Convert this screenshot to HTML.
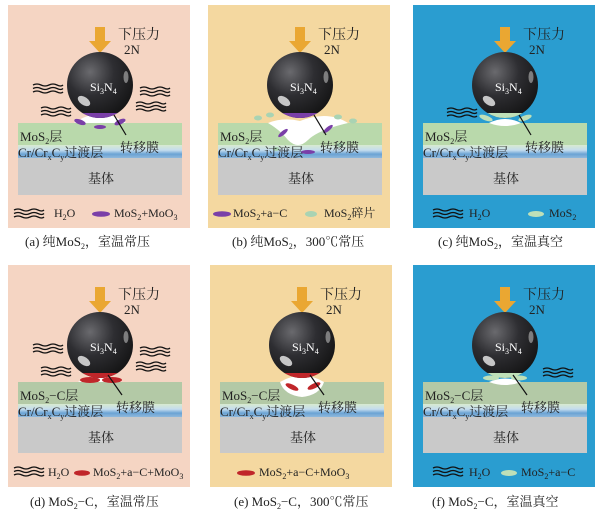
<!DOCTYPE html>
<html><head><meta charset="utf-8"><style>
html,body{margin:0;padding:0;background:#fff;}
svg{display:block;}
text{font-family:"Liberation Serif","Noto Serif CJK SC",serif;fill:#222;}
</style></head><body>
<svg width="601" height="511" viewBox="0 0 601 511" xmlns="http://www.w3.org/2000/svg">
<defs>
<radialGradient id="ball" cx="0.35" cy="0.3" r="0.8">
<stop offset="0" stop-color="#6a6a6e"/><stop offset="0.45" stop-color="#2e2e32"/><stop offset="1" stop-color="#111"/>
</radialGradient>
<linearGradient id="trans" x1="0" y1="0" x2="0" y2="1">
<stop offset="0" stop-color="#d8ead0"/><stop offset="0.4" stop-color="#c4dcee"/><stop offset="0.7" stop-color="#6aa3d4"/><stop offset="1" stop-color="#8fb8dc"/>
</linearGradient>
<g id="w" fill="none" stroke="#111" stroke-width="1.3">
<path d="M0,0 q4,-2 8,0 t8,0 t8,0 t6,0"/>
<path d="M0,3.5 q4,-2 8,0 t8,0 t8,0 t6,0"/>
<path d="M0,7 q4,-2 8,0 t8,0 t8,0 t6,0"/>
</g>
<g id="arrow" fill="#eaa732"><rect x="87" y="22" width="10" height="15"/><polygon points="81,36 103,36 92,48"/></g>
<g id="ballg"><circle cx="92" cy="80" r="33" fill="url(#ball)"/>
<ellipse cx="76" cy="96" rx="7" ry="4" fill="#eee" opacity="0.8" transform="rotate(35 76 96)"/>
<ellipse cx="118" cy="72" rx="2.5" ry="6" fill="#bbb" opacity="0.6"/></g>
</defs>

<!-- Panel a -->
<g transform="translate(8,5)">
<rect width="182" height="223" fill="#f5d5c3"/>
<rect x="10" y="118" width="164" height="22" fill="#b9d9ab"/>
<rect x="10" y="140" width="164" height="13" fill="url(#trans)"/>
<rect x="10" y="153" width="164" height="37" fill="#c9c9c9"/>
<use href="#arrow"/>
<text x="110" y="34" font-size="14">下压力</text><text x="116" y="49" font-size="13">2N</text>
<path d="M66,118 Q92,100 118,118 Z" fill="#fff"/>
<use href="#ballg"/>
<text x="82" y="86" font-size="12" fill="#fff" style="fill:#fff">Si<tspan font-size="8" dy="3">3</tspan><tspan dy="-3">N</tspan><tspan font-size="8" dy="3">4</tspan></text>
<path d="M74.5,108 A33,33 0 0 0 109.5,108 Z" fill="#7a3fa8"/>
<ellipse cx="72" cy="117" rx="6" ry="2.5" fill="#7a3fa8" transform="rotate(20 72 117)"/>
<ellipse cx="92" cy="122" rx="6" ry="2" fill="#7a3fa8"/>
<ellipse cx="112" cy="117" rx="6" ry="2.5" fill="#7a3fa8" transform="rotate(-25 112 117)"/>
<use href="#w" x="25" y="80"/><use href="#w" x="132" y="83"/><use href="#w" x="33" y="103"/><use href="#w" x="128" y="98"/>
<line x1="106" y1="110" x2="118" y2="130" stroke="#111" stroke-width="1.2"/>
<text x="12" y="136" font-size="13">MoS<tspan font-size="8" dy="3">2</tspan><tspan dy="-3">层</tspan></text>
<text x="112" y="147" font-size="13">转移膜</text>
<text x="10" y="152" font-size="13">Cr/Cr<tspan font-size="8" dy="3">x</tspan><tspan dy="-3">C</tspan><tspan font-size="8" dy="3">y</tspan><tspan dy="-3">过渡层</tspan></text>
<text x="80" y="178" font-size="13">基体</text>
<use href="#w" x="6" y="205"/><text x="46" y="212" font-size="12">H<tspan font-size="8" dy="3">2</tspan><tspan dy="-3">O</tspan></text>
<ellipse cx="93" cy="209" rx="9" ry="2.8" fill="#7a3fa8"/><text x="106" y="212" font-size="12">MoS<tspan font-size="8" dy="3">2</tspan><tspan dy="-3">+MoO</tspan><tspan font-size="8" dy="3">3</tspan></text>
</g>
<text x="25" y="246" font-size="13">(a) 纯MoS<tspan font-size="8" dy="3">2</tspan><tspan dy="-3">，室温常压</tspan></text>

<!-- Panel b -->
<g transform="translate(208,5)">
<rect width="182" height="223" fill="#f4d8a0"/>
<rect x="10" y="118" width="164" height="22" fill="#b9d9ab"/>
<rect x="10" y="140" width="164" height="13" fill="url(#trans)"/>
<rect x="10" y="153" width="164" height="37" fill="#c9c9c9"/>
<use href="#arrow"/>
<text x="110" y="34" font-size="14">下压力</text><text x="116" y="49" font-size="13">2N</text>
<path d="M60,118 Q75,112 92,116 Q120,105 140,118 Q110,125 100,135 Q90,145 80,135 Q72,125 60,118 Z" fill="#fff"/>
<use href="#ballg"/>
<text x="82" y="86" font-size="12" style="fill:#fff">Si<tspan font-size="8" dy="3">3</tspan><tspan dy="-3">N</tspan><tspan font-size="8" dy="3">4</tspan></text>
<path d="M74.5,108 A33,33 0 0 0 109.5,108 Z" fill="#7a3fa8"/>
<ellipse cx="75" cy="128" rx="6" ry="2" fill="#7a3fa8" transform="rotate(-40 75 128)"/>
<ellipse cx="120" cy="124" rx="6" ry="2" fill="#7a3fa8" transform="rotate(-40 120 124)"/>
<ellipse cx="100" cy="147" rx="7" ry="2" fill="#7a3fa8"/>
<ellipse cx="50" cy="113" rx="4" ry="2.5" fill="#a9d3b3"/><ellipse cx="62" cy="110" rx="4" ry="2.5" fill="#a9d3b3"/>
<ellipse cx="130" cy="112" rx="4" ry="2.5" fill="#a9d3b3"/><ellipse cx="145" cy="116" rx="4" ry="2.5" fill="#a9d3b3"/>
<ellipse cx="68" cy="144" rx="3.5" ry="2" fill="#a9d3b3"/><ellipse cx="132" cy="140" rx="3.5" ry="2" fill="#a9d3b3"/>
<line x1="106" y1="110" x2="118" y2="130" stroke="#111" stroke-width="1.2"/>
<text x="12" y="136" font-size="13">MoS<tspan font-size="8" dy="3">2</tspan><tspan dy="-3">层</tspan></text>
<text x="112" y="147" font-size="13">转移膜</text>
<text x="10" y="152" font-size="13">Cr/Cr<tspan font-size="8" dy="3">x</tspan><tspan dy="-3">C</tspan><tspan font-size="8" dy="3">y</tspan><tspan dy="-3">过渡层</tspan></text>
<text x="80" y="178" font-size="13">基体</text>
<ellipse cx="14" cy="209" rx="9" ry="2.8" fill="#7a3fa8"/><text x="25" y="212" font-size="12">MoS<tspan font-size="8" dy="3">2</tspan><tspan dy="-3">+a−C</tspan></text>
<ellipse cx="103" cy="209" rx="6" ry="3" fill="#a9d3b3"/><text x="116" y="212" font-size="12">MoS<tspan font-size="8" dy="3">2</tspan><tspan dy="-3">碎片</tspan></text>
</g>
<text x="232" y="246" font-size="13">(b) 纯MoS<tspan font-size="8" dy="3">2</tspan><tspan dy="-3">，300℃常压</tspan></text>

<!-- Panel c -->
<g transform="translate(413,5)">
<rect width="182" height="223" fill="#2a9dd0"/>
<rect x="10" y="118" width="164" height="22" fill="#b9d9ab"/>
<rect x="10" y="140" width="164" height="13" fill="url(#trans)"/>
<rect x="10" y="153" width="164" height="37" fill="#c9c9c9"/>
<use href="#arrow"/>
<text x="110" y="34" font-size="14">下压力</text><text x="116" y="49" font-size="13">2N</text>
<path d="M76,118 Q92,110 108,118 Q92,124 76,118 Z" fill="#fff"/>
<use href="#ballg"/>
<text x="82" y="86" font-size="12" style="fill:#fff">Si<tspan font-size="8" dy="3">3</tspan><tspan dy="-3">N</tspan><tspan font-size="8" dy="3">4</tspan></text>
<path d="M74.5,108 A33,33 0 0 0 109.5,108 Z" fill="#bfe0b8"/>
<ellipse cx="73" cy="113" rx="7" ry="2.5" fill="#bfe0b8" transform="rotate(20 73 113)"/>
<ellipse cx="112" cy="113" rx="7" ry="2.5" fill="#bfe0b8" transform="rotate(-20 112 113)"/>
<use href="#w" x="34" y="104"/>
<line x1="106" y1="110" x2="118" y2="130" stroke="#111" stroke-width="1.2"/>
<text x="12" y="136" font-size="13">MoS<tspan font-size="8" dy="3">2</tspan><tspan dy="-3">层</tspan></text>
<text x="112" y="147" font-size="13">转移膜</text>
<text x="10" y="152" font-size="13">Cr/Cr<tspan font-size="8" dy="3">x</tspan><tspan dy="-3">C</tspan><tspan font-size="8" dy="3">y</tspan><tspan dy="-3">过渡层</tspan></text>
<text x="80" y="178" font-size="13">基体</text>
<use href="#w" x="20" y="205"/><text x="56" y="212" font-size="12">H<tspan font-size="8" dy="3">2</tspan><tspan dy="-3">O</tspan></text>
<ellipse cx="123" cy="209" rx="8" ry="3" fill="#bfe0b8"/><text x="136" y="212" font-size="12">MoS<tspan font-size="8" dy="3">2</tspan></text>
</g>
<text x="438" y="246" font-size="13">(c) 纯MoS<tspan font-size="8" dy="3">2</tspan><tspan dy="-3">，室温真空</tspan></text>

<!-- Panel d -->
<g transform="translate(8,265)">
<rect width="182" height="222" fill="#f5d5c3"/>
<rect x="10" y="117" width="164" height="22" fill="#b3c9a6"/>
<rect x="10" y="139" width="164" height="13" fill="url(#trans)"/>
<rect x="10" y="152" width="164" height="36" fill="#c9c9c9"/>
<use href="#arrow"/>
<text x="110" y="34" font-size="14">下压力</text><text x="116" y="49" font-size="13">2N</text>
<path d="M70,117 Q92,104 114,117 Z" fill="#fff"/>
<use href="#ballg"/>
<text x="82" y="86" font-size="12" style="fill:#fff">Si<tspan font-size="8" dy="3">3</tspan><tspan dy="-3">N</tspan><tspan font-size="8" dy="3">4</tspan></text>
<path d="M74.5,108 A33,33 0 0 0 109.5,108 Z" fill="#c0262a"/>
<ellipse cx="82" cy="115" rx="10" ry="3" fill="#c0262a"/><ellipse cx="104" cy="115" rx="10" ry="3" fill="#c0262a"/>
<use href="#w" x="25" y="80"/><use href="#w" x="132" y="83"/><use href="#w" x="33" y="103"/><use href="#w" x="128" y="98"/>
<line x1="100" y1="110" x2="114" y2="130" stroke="#111" stroke-width="1.2"/>
<text x="12" y="135" font-size="13">MoS<tspan font-size="8" dy="3">2</tspan><tspan dy="-3">−C层</tspan></text>
<text x="108" y="147" font-size="13">转移膜</text>
<text x="10" y="151" font-size="13">Cr/Cr<tspan font-size="8" dy="3">x</tspan><tspan dy="-3">C</tspan><tspan font-size="8" dy="3">y</tspan><tspan dy="-3">过渡层</tspan></text>
<text x="80" y="177" font-size="13">基体</text>
<use href="#w" x="6" y="203"/><text x="40" y="211" font-size="12">H<tspan font-size="8" dy="3">2</tspan><tspan dy="-3">O</tspan></text>
<ellipse cx="74" cy="208" rx="8" ry="2.8" fill="#c0262a"/><text x="85" y="211" font-size="12">MoS<tspan font-size="8" dy="3">2</tspan><tspan dy="-3">+a−C+MoO</tspan><tspan font-size="8" dy="3">3</tspan></text>
</g>
<text x="30" y="506" font-size="13">(d) MoS<tspan font-size="8" dy="3">2</tspan><tspan dy="-3">−C，室温常压</tspan></text>

<!-- Panel e -->
<g transform="translate(210,265)">
<rect width="182" height="222" fill="#f4d8a0"/>
<rect x="10" y="117" width="164" height="22" fill="#b3c9a6"/>
<rect x="10" y="139" width="164" height="13" fill="url(#trans)"/>
<rect x="10" y="152" width="164" height="36" fill="#c9c9c9"/>
<use href="#arrow"/>
<text x="110" y="34" font-size="14">下压力</text><text x="116" y="49" font-size="13">2N</text>
<path d="M70,117 Q92,104 114,117 Q110,130 92,132 Q74,130 70,117 Z" fill="#fff"/>
<use href="#ballg"/>
<text x="82" y="86" font-size="12" style="fill:#fff">Si<tspan font-size="8" dy="3">3</tspan><tspan dy="-3">N</tspan><tspan font-size="8" dy="3">4</tspan></text>
<path d="M74.5,108 A33,33 0 0 0 109.5,108 Z" fill="#c0262a"/>
<ellipse cx="82" cy="122" rx="7" ry="2.5" fill="#c0262a" transform="rotate(25 82 122)"/>
<ellipse cx="104" cy="121" rx="7" ry="2.5" fill="#c0262a" transform="rotate(-25 104 121)"/>
<line x1="100" y1="110" x2="114" y2="130" stroke="#111" stroke-width="1.2"/>
<text x="12" y="135" font-size="13">MoS<tspan font-size="8" dy="3">2</tspan><tspan dy="-3">−C层</tspan></text>
<text x="108" y="147" font-size="13">转移膜</text>
<text x="10" y="151" font-size="13">Cr/Cr<tspan font-size="8" dy="3">x</tspan><tspan dy="-3">C</tspan><tspan font-size="8" dy="3">y</tspan><tspan dy="-3">过渡层</tspan></text>
<text x="80" y="177" font-size="13">基体</text>
<ellipse cx="36" cy="208" rx="9" ry="2.8" fill="#c0262a"/><text x="49" y="211" font-size="12">MoS<tspan font-size="8" dy="3">2</tspan><tspan dy="-3">+a−C+MoO</tspan><tspan font-size="8" dy="3">3</tspan></text>
</g>
<text x="234" y="506" font-size="13">(e) MoS<tspan font-size="8" dy="3">2</tspan><tspan dy="-3">−C，300℃常压</tspan></text>

<!-- Panel f -->
<g transform="translate(413,265)">
<rect width="182" height="222" fill="#2a9dd0"/>
<rect x="10" y="117" width="164" height="22" fill="#b3c9a6"/>
<rect x="10" y="139" width="164" height="13" fill="url(#trans)"/>
<rect x="10" y="152" width="164" height="36" fill="#c9c9c9"/>
<use href="#arrow"/>
<text x="110" y="34" font-size="14">下压力</text><text x="116" y="49" font-size="13">2N</text>
<path d="M76,117 Q92,110 108,117 Q92,123 76,117 Z" fill="#fff"/>
<use href="#ballg"/>
<text x="82" y="86" font-size="12" style="fill:#fff">Si<tspan font-size="8" dy="3">3</tspan><tspan dy="-3">N</tspan><tspan font-size="8" dy="3">4</tspan></text>
<path d="M74.5,108 A33,33 0 0 0 109.5,108 Z" fill="#bfe0b8"/>
<ellipse cx="78" cy="113" rx="8" ry="2.5" fill="#bfe0b8"/><ellipse cx="106" cy="113" rx="8" ry="2.5" fill="#bfe0b8"/>
<use href="#w" x="130" y="104"/>
<line x1="100" y1="110" x2="114" y2="130" stroke="#111" stroke-width="1.2"/>
<text x="12" y="135" font-size="13">MoS<tspan font-size="8" dy="3">2</tspan><tspan dy="-3">−C层</tspan></text>
<text x="108" y="147" font-size="13">转移膜</text>
<text x="10" y="151" font-size="13">Cr/Cr<tspan font-size="8" dy="3">x</tspan><tspan dy="-3">C</tspan><tspan font-size="8" dy="3">y</tspan><tspan dy="-3">过渡层</tspan></text>
<text x="80" y="177" font-size="13">基体</text>
<use href="#w" x="20" y="203"/><text x="56" y="211" font-size="12">H<tspan font-size="8" dy="3">2</tspan><tspan dy="-3">O</tspan></text>
<ellipse cx="96" cy="208" rx="8" ry="3" fill="#bfe0b8"/><text x="108" y="211" font-size="12">MoS<tspan font-size="8" dy="3">2</tspan><tspan dy="-3">+a−C</tspan></text>
</g>
<text x="432" y="506" font-size="13">(f) MoS<tspan font-size="8" dy="3">2</tspan><tspan dy="-3">−C，室温真空</tspan></text>
</svg>
</body></html>
